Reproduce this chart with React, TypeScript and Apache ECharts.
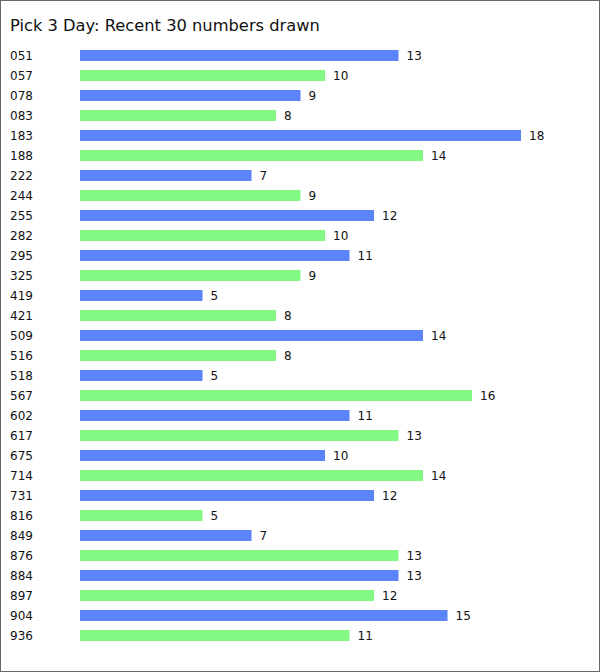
import React, { useEffect, useRef } from "react";
import * as echarts from "echarts";

const categories = ["051","057","078","083","183","188","222","244","255","282","295","325","419","421","509","516","518","567","602","617","675","714","731","816","849","876","884","897","904","936"];
const counts = [13,10,9,8,18,14,7,9,12,10,11,9,5,8,14,8,5,16,11,13,10,14,12,5,7,13,13,12,15,11];
const barColors = ["#5a84f8", "#84f884"];
const titleText = "Pick 3 Day: Recent 30 numbers drawn";

export default function App() {
  const ref = useRef<HTMLDivElement>(null);
  useEffect(() => {
    if (!ref.current) return;
    const chart = echarts.init(ref.current, undefined, { renderer: "svg" });
    chart.setOption({
      animation: false,
      title: {
        text: titleText,
        left: 4,
        top: 11,
        textStyle: { fontFamily: "DejaVu Sans", fontSize: 16.3, fontWeight: "normal", color: "#111" },
      },
      grid: { left: 79, right: 78, top: 44.5, height: 600, containLabel: false },
      xAxis: {
        type: "value",
        min: 0,
        max: Math.max(...counts),
        show: false,
        splitLine: { show: false },
      },
      yAxis: {
        type: "category",
        data: categories,
        inverse: true,
        axisLine: { show: false },
        axisTick: { show: false },
        splitLine: { show: false },
        axisLabel: {
          align: "left",
          margin: 70,
          fontFamily: "DejaVu Sans",
          fontSize: 12,
          color: "#111",
        },
      },
      series: [
        {
          type: "bar",
          barWidth: 11,
          data: counts.map((v, i) => ({ value: v, itemStyle: { color: barColors[i % 2] } })),
          label: {
            show: true,
            position: "right",
            distance: 8,
            fontFamily: "DejaVu Sans",
            fontSize: 12,
            color: "#111",
          },
        },
      ],
    });
    return () => chart.dispose();
  }, []);
  return (
    <div
      style={{
        position: "absolute",
        left: 0,
        top: 0,
        width: 600,
        height: 672,
        border: "1px solid #666",
        boxSizing: "border-box",
        background: "#fff",
      }}
    >
      <div ref={ref} style={{ position: "absolute", left: 0, top: 0, width: 598, height: 670 }} />
    </div>
  );
}
